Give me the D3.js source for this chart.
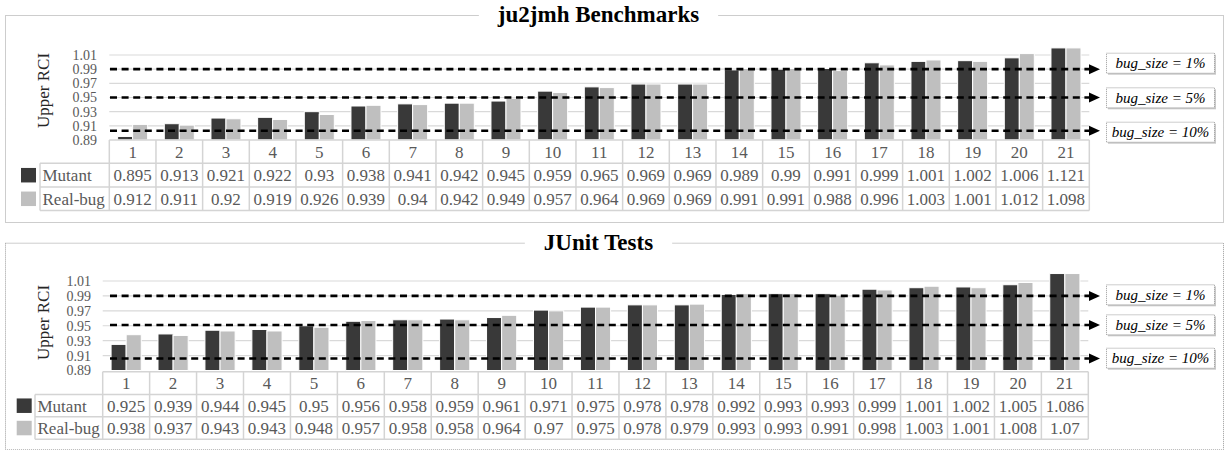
<!DOCTYPE html>
<html>
<head>
<meta charset="utf-8">
<script src="https://cdn.jsdelivr.net/npm/d3@7/dist/d3.min.js"></script>
<style>
  html, body { margin: 0; padding: 0; background: #fff; }
  svg { display: block; font-family: "Liberation Serif", "Times New Roman", serif; }
</style>
</head>
<body>
<svg id="chart" width="1226" height="450"></svg>
<script>
// ---------------- DATA ----------------
const categories = ["1","2","3","4","5","6","7","8","9","10","11","12","13","14","15","16","17","18","19","20","21"];
const seriesNames = ["Mutant", "Real-bug"];

const ju2jmhMutant  = [0.895,0.913,0.921,0.922,0.93,0.938,0.941,0.942,0.945,0.959,0.965,0.969,0.969,0.989,0.99,0.991,0.999,1.001,1.002,1.006,1.121];
const ju2jmhRealBug = [0.912,0.911,0.92,0.919,0.926,0.939,0.94,0.942,0.949,0.957,0.964,0.969,0.969,0.991,0.991,0.988,0.996,1.003,1.001,1.012,1.098];

const junitMutant   = [0.925,0.939,0.944,0.945,0.95,0.956,0.958,0.959,0.961,0.971,0.975,0.978,0.978,0.992,0.993,0.993,0.999,1.001,1.002,1.005,1.086];
const junitRealBug  = [0.938,0.937,0.943,0.943,0.948,0.957,0.958,0.958,0.964,0.97,0.975,0.978,0.979,0.993,0.993,0.991,0.998,1.003,1.001,1.008,1.07];

const yTicks = [0.89,0.91,0.93,0.95,0.97,0.99,1.01];
const yMin = 0.89, yMax = 1.02;
const thresholdLabels = ["bug_size = 1%", "bug_size = 5%", "bug_size = 10%"];
const ju2jmhThresholds = [0.99, 0.95, 0.903];
const junitThresholds  = [0.99, 0.951, 0.906];

const panelTitles = ["ju2jmh Benchmarks", "JUnit Tests"];

// ---------------- LAYOUT ----------------
const colors = { Mutant: "#393939", "Real-bug": "#bfbfbf" };
const svg = d3.select("#chart");

const panels = [
  {
    title: panelTitles[0], mutant: ju2jmhMutant, real: ju2jmhRealBug, thresholds: ju2jmhThresholds,
    border: [5, 15, 1223, 222], titleBaseline: 21.5,
    plotX: [109.3, 1089.3], yRange: [140, 55],
    rows: [140, 163.3, 187, 210.5], rowLabelX: 40, legendX: 21,
    tickRight: 97, yLabel: [43, 90.5], boxTops: [52.7, 87.3, 121.7]
  },
  {
    title: panelTitles[1], mutant: junitMutant, real: junitRealBug, thresholds: junitThresholds,
    border: [5, 242.7, 1223, 449.3], titleBaseline: 249.5,
    plotX: [102.7, 1088.3], yRange: [370.5, 281],
    rows: [371.7, 394.5, 416.8, 439.2], rowLabelX: 35, legendX: 16.7,
    tickRight: 91, yLabel: [43, 322.5], boxTops: [284.3, 314.3, 347.7]
  }
];

const gridColor = "#d9d9d9";
const tableColor = "#d4d4d4";
const textGray = "#595959";

panels.forEach(p => {
  const g = svg.append("g");
  const [bx0, by0, bx1, by1] = p.border;

  // outer dotted border
  g.append("rect")
    .attr("x", bx0 + 0.5).attr("y", by0 + 0.5)
    .attr("width", bx1 - bx0).attr("height", by1 - by0)
    .attr("fill", "none").attr("stroke", "#9a9a9a")
    .attr("stroke-width", 1).attr("stroke-dasharray", "1,1");

  // scales
  const x = d3.scaleBand().domain(categories).range(p.plotX).paddingInner(0.357).paddingOuter(0.1785);
  const xCat = d3.scaleBand().domain(categories).range(p.plotX);
  const xs = d3.scaleBand().domain(seriesNames).range([0, x.bandwidth()]);
  const y = d3.scaleLinear().domain([yMin, 1.01]).range(p.yRange);
  const yClamp = v => y(Math.min(Math.max(v, yMin), yMax));

  // gridlines
  g.append("g").selectAll("line").data(yTicks.slice(1)).join("line")
    .attr("x1", p.plotX[0]).attr("x2", p.plotX[1])
    .attr("y1", d => y(d)).attr("y2", d => y(d))
    .attr("stroke", gridColor).attr("stroke-width", 1.2);

  // y tick labels via axis
  const yAxis = d3.axisLeft(y).tickValues(yTicks).tickFormat(d3.format(".2f")).tickSize(0).tickPadding(0);
  const ya = g.append("g").attr("transform", `translate(${p.tickRight},0)`).call(yAxis);
  ya.select(".domain").remove();
  ya.attr("font-family", null).attr("font-size", null);
  ya.selectAll("text").attr("font-family", "Liberation Serif").attr("font-size", 14).attr("fill", textGray);

  // y label
  g.append("text")
    .attr("transform", `translate(${p.yLabel[0]},${p.yLabel[1]}) rotate(-90)`)
    .attr("text-anchor", "middle").attr("dy", "0.35em")
    .attr("font-size", 17).attr("fill", "#262626")
    .text("Upper RCI");

  // bars
  const seriesData = [p.mutant, p.real];
  seriesNames.forEach((s, si) => {
    g.append("g").selectAll("rect").data(seriesData[si]).join("rect")
      .attr("x", (d, i) => x(categories[i]) + xs(s))
      .attr("width", xs.bandwidth())
      .attr("y", d => yClamp(d))
      .attr("height", d => y(yMin) - yClamp(d))
      .attr("fill", colors[s])
      .attr("stroke", "#ffffff").attr("stroke-width", 1);
  });

  // table
  const [r0, r1, r2, r3] = p.rows;
  const tg = g.append("g").attr("stroke", tableColor).attr("stroke-width", 1.5);
  tg.append("line").attr("x1", p.plotX[0]).attr("x2", p.plotX[1]).attr("y1", r0).attr("y2", r0);
  [r1, r2, r3].forEach(r => tg.append("line").attr("x1", p.rowLabelX).attr("x2", p.plotX[1]).attr("y1", r).attr("y2", r));
  tg.append("line").attr("x1", p.rowLabelX).attr("x2", p.rowLabelX).attr("y1", r1).attr("y2", r3);
  const bounds = categories.map(c => xCat(c)).concat([p.plotX[1]]);
  tg.selectAll(".vl").data(bounds).join("line")
    .attr("x1", d => d).attr("x2", d => d).attr("y1", r0).attr("y2", r3);

  // category labels
  g.append("g").selectAll("text").data(categories).join("text")
    .attr("x", d => xCat(d) + xCat.bandwidth() / 2)
    .attr("y", (r0 + r1) / 2 + 6)
    .attr("text-anchor", "middle").attr("font-size", 17).attr("fill", textGray)
    .text(d => d);

  // table values
  const rowsY = [(r1 + r2) / 2 + 6, (r2 + r3) / 2 + 6];
  seriesNames.forEach((s, si) => {
    g.append("g").selectAll("text").data(seriesData[si]).join("text")
      .attr("x", (d, i) => xCat(categories[i]) + xCat.bandwidth() / 2)
      .attr("y", rowsY[si])
      .attr("text-anchor", "middle").attr("font-size", 17).attr("fill", textGray)
      .text(d => String(d));
    // row label
    g.append("text").attr("x", p.rowLabelX + 2.5).attr("y", rowsY[si])
      .attr("font-size", 17).attr("fill", textGray).text(s);
    // legend key
    g.append("rect").attr("x", p.legendX).attr("y", (si === 0 ? (r1 + r2) / 2 : (r2 + r3) / 2) - 7.2)
      .attr("width", 15).attr("height", 14.5).attr("fill", colors[s]);
  });

  // threshold dashed arrows
  const ag = g.append("g");
  p.thresholds.forEach((t, ti) => {
    const yy = y(t);
    ag.append("line").attr("x1", 110).attr("x2", 1091)
      .attr("y1", yy).attr("y2", yy)
      .attr("stroke", "#000").attr("stroke-width", 2.6).attr("stroke-dasharray", "7,4.6");
    ag.append("path")
      .attr("d", `M1089,${yy - 5}L1100,${yy}L1089,${yy + 5}Z`)
      .attr("fill", "#000");
    // label box
    const top = p.boxTops[ti];
    ag.append("rect").attr("x", 1108).attr("y", top + 2).attr("width", 108).attr("height", 20)
      .attr("fill", "#c8c8c8");
    ag.append("rect").attr("x", 1106.5).attr("y", top + 0.5).attr("width", 108).attr("height", 20)
      .attr("fill", "#fff").attr("stroke", "#9a9a9a").attr("stroke-width", 1).attr("stroke-dasharray", "1,1");
    ag.append("text").attr("x", 1160.5).attr("y", top + 15.5)
      .attr("text-anchor", "middle").attr("font-size", 15).attr("font-style", "italic").attr("fill", "#000")
      .text(thresholdLabels[ti]);
  });

  // title with background gap
  const midX = 598.5;
  const bg = g.append("rect").attr("fill", "#fff");
  const tt = g.append("text").attr("x", midX).attr("y", p.titleBaseline)
    .attr("text-anchor", "middle").attr("font-size", 23).attr("font-weight", "bold").attr("fill", "#000")
    .text(p.title);
  const w = tt.node().getComputedTextLength();
  bg.attr("x", midX - w / 2 - 19).attr("y", by0 - 3).attr("width", w + 38).attr("height", 6);
});
</script>
</body>
</html>
